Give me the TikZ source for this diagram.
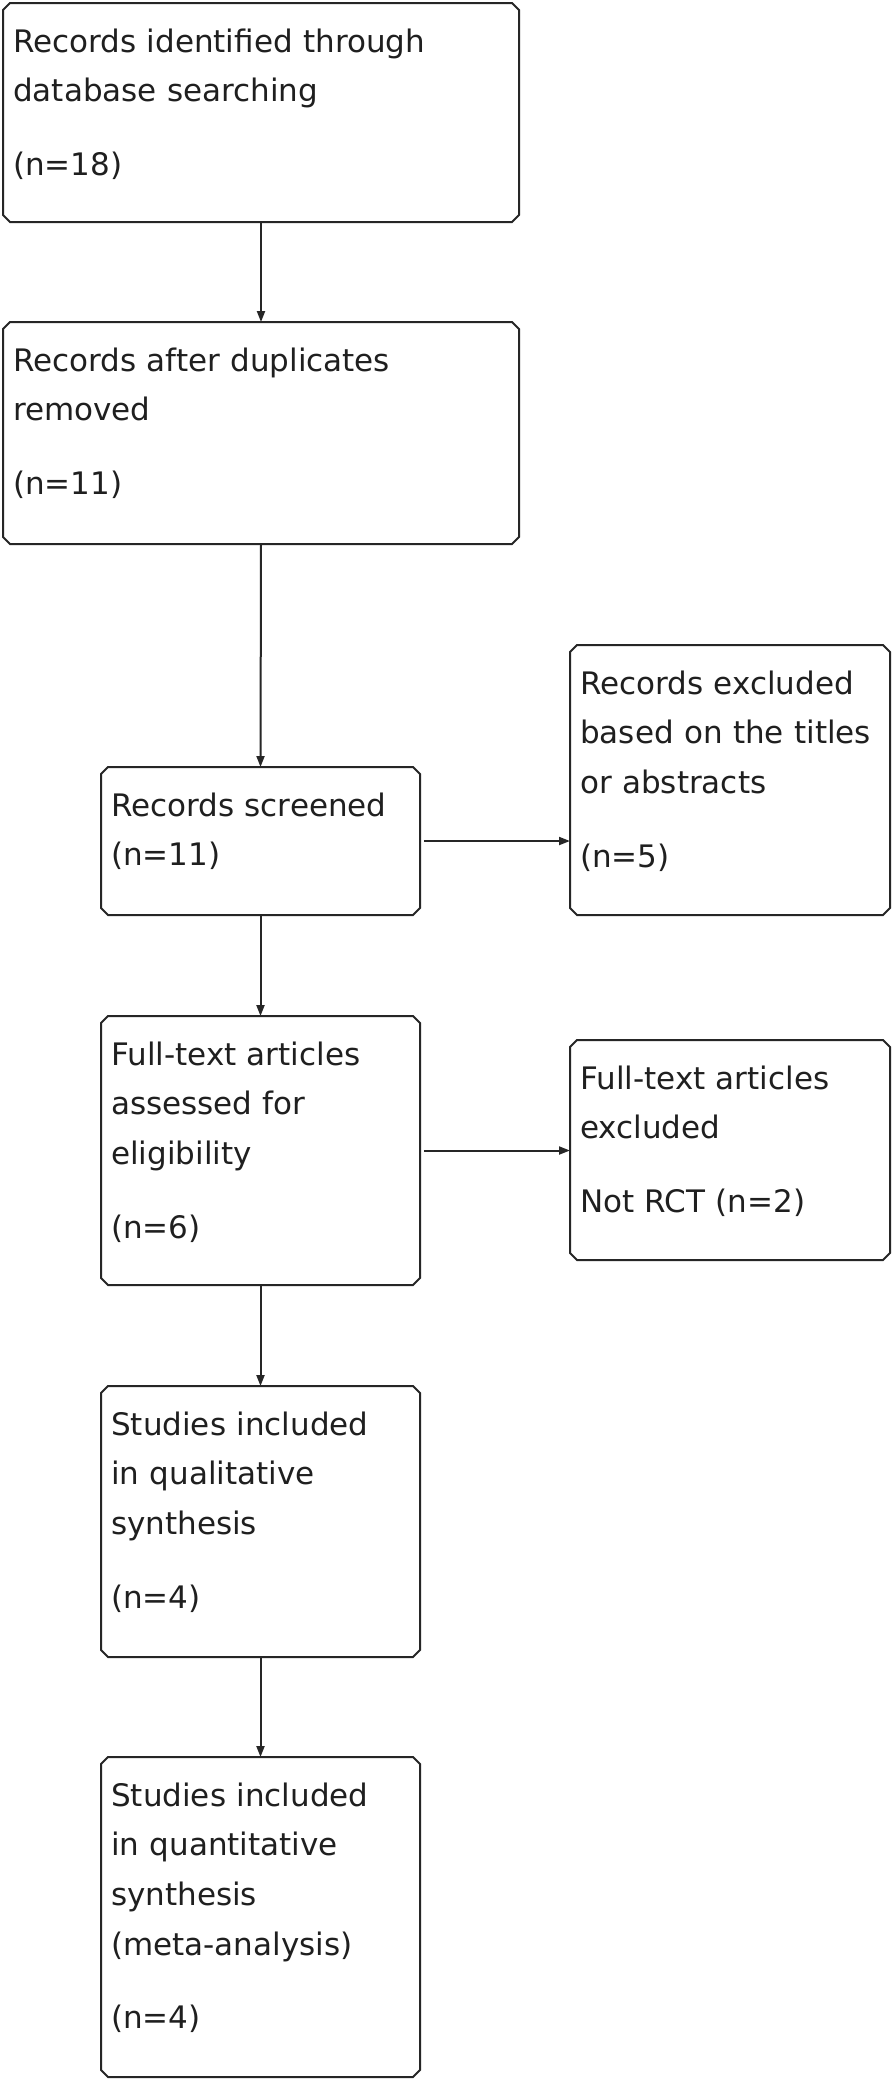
\documentclass[tikz,border=0pt]{standalone}
\usepackage{fontspec}
\setmainfont{DejaVu Sans}
\usetikzlibrary{arrows.meta}
\newcommand{\chamfbox}[1]{%
  \draw[boxline] ([xshift=7pt]#1.north west) -- ([xshift=-7pt]#1.north east)
    -- ([yshift=-7pt]#1.north east) -- ([yshift=7pt]#1.south east)
    -- ([xshift=-7pt]#1.south east) -- ([xshift=7pt]#1.south west)
    -- ([yshift=7pt]#1.south west) -- ([yshift=-7pt]#1.north west) -- cycle;}
\begin{document}
\begin{tikzpicture}[x=1pt,y=-1pt,
  box/.style={rectangle, inner sep=0pt, outer sep=0pt},
  boxline/.style={draw=black!85, line width=2pt, line join=miter},
  txt/.style={anchor=base west, inner sep=0pt, align=left, text width=340pt,
    font=\fontsize{31}{49.7}\selectfont, text=black!88},
  arr/.style={draw=black!85, line width=2pt, -{Triangle[length=11pt,width=8pt]}}]
\useasboundingbox (0,0) rectangle (894,2080);
\fill[white] (0,0) rectangle (894,2080);

\node[box, minimum width=516pt, minimum height=219pt] (b1) at (261,112.5) {};
\node[box, minimum width=516pt, minimum height=222pt] (b2) at (261,433) {};
\node[box, minimum width=319pt, minimum height=148pt] (b3) at (260.5,841) {};
\node[box, minimum width=320pt, minimum height=270pt] (e1) at (730,780) {};
\node[box, minimum width=319pt, minimum height=269pt] (b4) at (260.5,1150.5) {};
\node[box, minimum width=320pt, minimum height=220pt] (e2) at (730,1150) {};
\node[box, minimum width=319pt, minimum height=271pt] (b5) at (260.5,1521.5) {};
\node[box, minimum width=319pt, minimum height=320pt] (b6) at (260.5,1917) {};
\chamfbox{b1}\chamfbox{b2}\chamfbox{b3}\chamfbox{e1}
\chamfbox{b4}\chamfbox{e2}\chamfbox{b5}\chamfbox{b6}

\node[txt, text width=500pt] (t1) at ([xshift=10pt,yshift=-49pt]b1.north west)
  {Records identified through\\database searching\\[24pt](n=18)};
\node[txt, text width=500pt] (t2) at ([xshift=10pt,yshift=-49pt]b2.north west)
  {Records after duplicates\\removed\\[24pt](n=11)};
\node[txt] (t3) at ([xshift=10pt,yshift=-49pt]b3.north west)
  {Records screened\\(n=11)};
\node[txt] (te1) at ([xshift=10pt,yshift=-49pt]e1.north west)
  {Records excluded\\based on the titles\\or abstracts\\[24pt](n=5)};
\node[txt] (t4) at ([xshift=10pt,yshift=-49pt]b4.north west)
  {Full-text articles\\assessed for\\eligibility\\[24pt](n=6)};
\node[txt] (te2) at ([xshift=10pt,yshift=-49pt]e2.north west)
  {Full-text articles\\excluded\\[24pt]Not RCT (n=2)};
\node[txt] (t5) at ([xshift=10pt,yshift=-49pt]b5.north west)
  {Studies included\\in qualitative\\synthesis\\[24pt](n=4)};
\node[txt] (t6) at ([xshift=10pt,yshift=-49pt]b6.north west)
  {Studies included\\in quantitative\\synthesis\\(meta-analysis)\\[24pt](n=4)};

\draw[arr] (b1.south) -- (b2.north);
\draw[arr] (b2.south) -- (b3.north);
\draw[arr] (b3.south) -- (b4.north);
\draw[arr] (b4.south) -- (b5.north);
\draw[arr] (b5.south) -- (b6.north);
\draw[arr] ([xshift=4pt]b3.east) -- (b3.east -| e1.west);
\draw[arr] ([xshift=4pt]b4.east) -- (b4.east -| e2.west);
\end{tikzpicture}
\end{document}
